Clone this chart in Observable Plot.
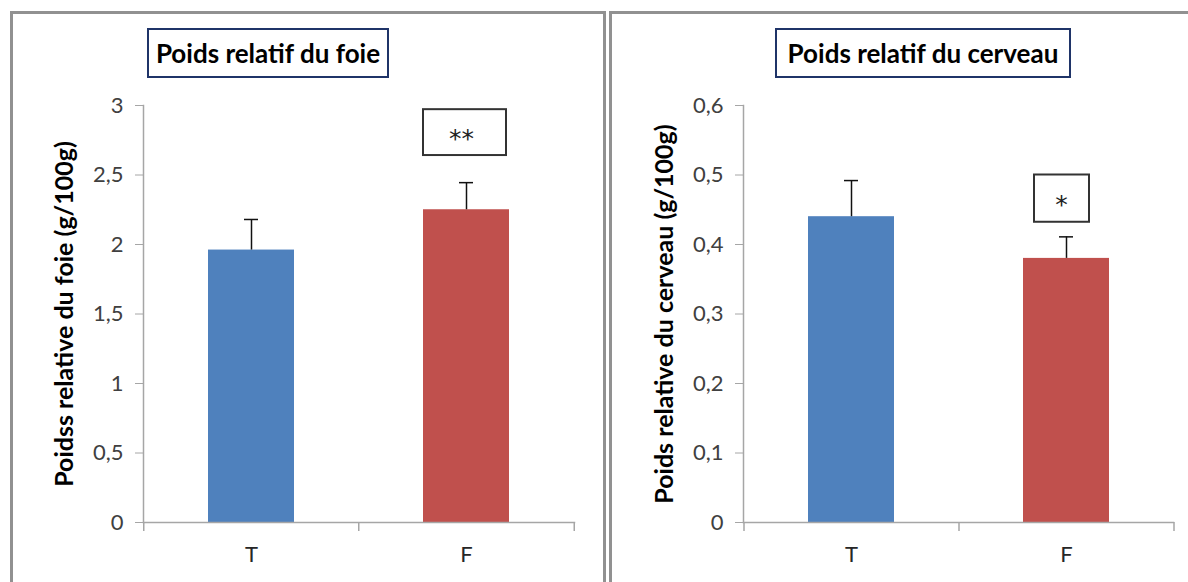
<!DOCTYPE html>
<html><head><meta charset="utf-8">
<script src="https://cdn.jsdelivr.net/npm/d3@7"></script>
<script src="https://cdn.jsdelivr.net/npm/@observablehq/plot@0.6"></script>
<style>
body{margin:0;background:#fff;font-family:Lato,"Open Sans",sans-serif;}
#root{position:relative;width:1188px;height:582px;overflow:hidden;background:#fff;}
.chart{position:absolute;top:0;}
.panel{position:absolute;border:3px solid #919191;box-sizing:border-box;pointer-events:none;}
.title{position:absolute;border:2px solid #1f3468;box-sizing:border-box;display:flex;align-items:center;justify-content:center;font-weight:bold;font-size:26px;color:#000;background:#fff;white-space:nowrap;}
</style></head><body><div id="root"></div>
<script>
const categories = ["T", "F"];
const foieMeans = [1.96, 2.25];
const foieErrors = [0.22, 0.195];
const foieStars = ["", "**"];
const foieStarLow = [null, 2.64];
const foieStarHigh = [null, 2.97];
const foieTicks = [0, 0.5, 1, 1.5, 2, 2.5, 3];
const cerveauMeans = [0.44, 0.38];
const cerveauErrors = [0.052, 0.031];
const cerveauStars = ["", "*"];
const cerveauStarLow = [null, 0.432];
const cerveauStarHigh = [null, 0.50];
const cerveauTicks = [0, 0.1, 0.2, 0.3, 0.4, 0.5, 0.6];
const colors = ["#4f81bd", "#c0504d"];

function makeChart(o) {
  const H = 582, mT = 105, mB = 60, mL = 143;
  const innerH = H - mT - mB;
  const innerW = o.width - mL - o.marginRight;
  const step = innerW / 2;
  const yMax = o.ticks[o.ticks.length - 1];
  const rows = categories.map((c, i) => ({cat: c, mean: o.means[i], err: o.errors[i], star: o.stars[i], lo: o.lo[i], hi: o.hi[i]}));
  const sig = rows.filter(d => d.star);
  const tickLenData = -9 * yMax / innerH;
  const axisColor = "#a6a6a6";
  return Plot.plot({
    width: o.width, height: H,
    marginTop: mT, marginBottom: mB, marginLeft: mL, marginRight: o.marginRight,
    style: {fontFamily: "Lato, 'Open Sans', sans-serif", background: "transparent", overflow: "visible"},
    x: {domain: categories, paddingInner: 0.6, paddingOuter: 0.3, axis: null},
    y: {domain: [0, yMax], axis: null},
    color: {domain: categories, range: colors},
    marks: [
      Plot.barY(rows, {x: "cat", y: "mean", fill: "cat"}),
      Plot.ruleX(rows, {x: "cat", y1: "mean", y2: d => d.mean + d.err, stroke: "#111", strokeWidth: 1.5}),
      Plot.tickY(rows, {x: "cat", y: d => d.mean + d.err, stroke: "#111", strokeWidth: 1.5, insetLeft: 36, insetRight: 36}),
      Plot.barY(sig, {x: "cat", y1: "lo", y2: "hi", fill: "white", stroke: "#333", strokeWidth: 2, insetLeft: o.boxInsetL, insetRight: o.boxInsetR}),
      Plot.text(sig, {x: "cat", y: d => (d.lo + d.hi) / 2, text: "star", fontSize: 25, fontFamily: "'DejaVu Sans', sans-serif", fill: "#222", dx: o.starDx, dy: 6}),
      Plot.ruleX(categories, {x: d => d, dx: -step / 2, y1: 0, y2: tickLenData, stroke: axisColor, strokeWidth: 1.5}),
      Plot.ruleX(categories.slice(-1), {x: d => d, dx: step / 2, y1: 0, y2: tickLenData, stroke: axisColor, strokeWidth: 1.5}),
      Plot.frame({anchor: "left", stroke: axisColor, strokeWidth: 1.5}),
      Plot.frame({anchor: "bottom", stroke: axisColor, strokeWidth: 1.5}),
      Plot.axisY({ticks: o.ticks, tickSize: 8, tickPadding: 12, fontSize: 22, stroke: axisColor, fill: "#404040", label: null,
        tickFormat: d => String(d).replace(".", ",")}),
      Plot.axisX({tickSize: 0, tickPadding: 24, fontSize: 22, fill: "#262626", label: null}),
      Plot.text([o.ylabel], {frameAnchor: "left", textAnchor: "middle", rotate: -90, dx: o.labelDx, fontWeight: "bold", fontSize: 25, fill: "#000"})
    ]
  });
}

const root = document.getElementById("root");
const c1 = makeChart({width: 600, marginRight: 26, ticks: foieTicks, means: foieMeans, errors: foieErrors, stars: foieStars, lo: foieStarLow, hi: foieStarHigh,
  boxInsetL: 0, boxInsetR: 3, starDx: -5, labelDx: -79, ylabel: "Poidss relative du foie (g/100g)"});
c1.classList.add("chart"); c1.style.left = "0px";
root.appendChild(c1);
const c2 = makeChart({width: 588, marginRight: 15, ticks: cerveauTicks, means: cerveauMeans, errors: cerveauErrors, stars: cerveauStars, lo: cerveauStarLow, hi: cerveauStarHigh,
  boxInsetL: 11, boxInsetR: 20, starDx: -5, labelDx: -79, ylabel: "Poids relative du cerveau (g/100g)"});
c2.classList.add("chart"); c2.style.left = "600px";
root.appendChild(c2);

function addDiv(cls, l, t, w, h, text) {
  const d = document.createElement("div");
  d.className = cls;
  Object.assign(d.style, {left: l + "px", top: t + "px", width: w + "px", height: h + "px"});
  if (text) d.textContent = text;
  root.appendChild(d);
}
addDiv("panel", 10, 11, 596, 600);
addDiv("panel", 609, 11, 600, 600);
addDiv("title", 147, 28, 242, 50, "Poids relatif du foie");
addDiv("title", 775, 28, 296, 50, "Poids relatif du cerveau");
</script></body></html>
